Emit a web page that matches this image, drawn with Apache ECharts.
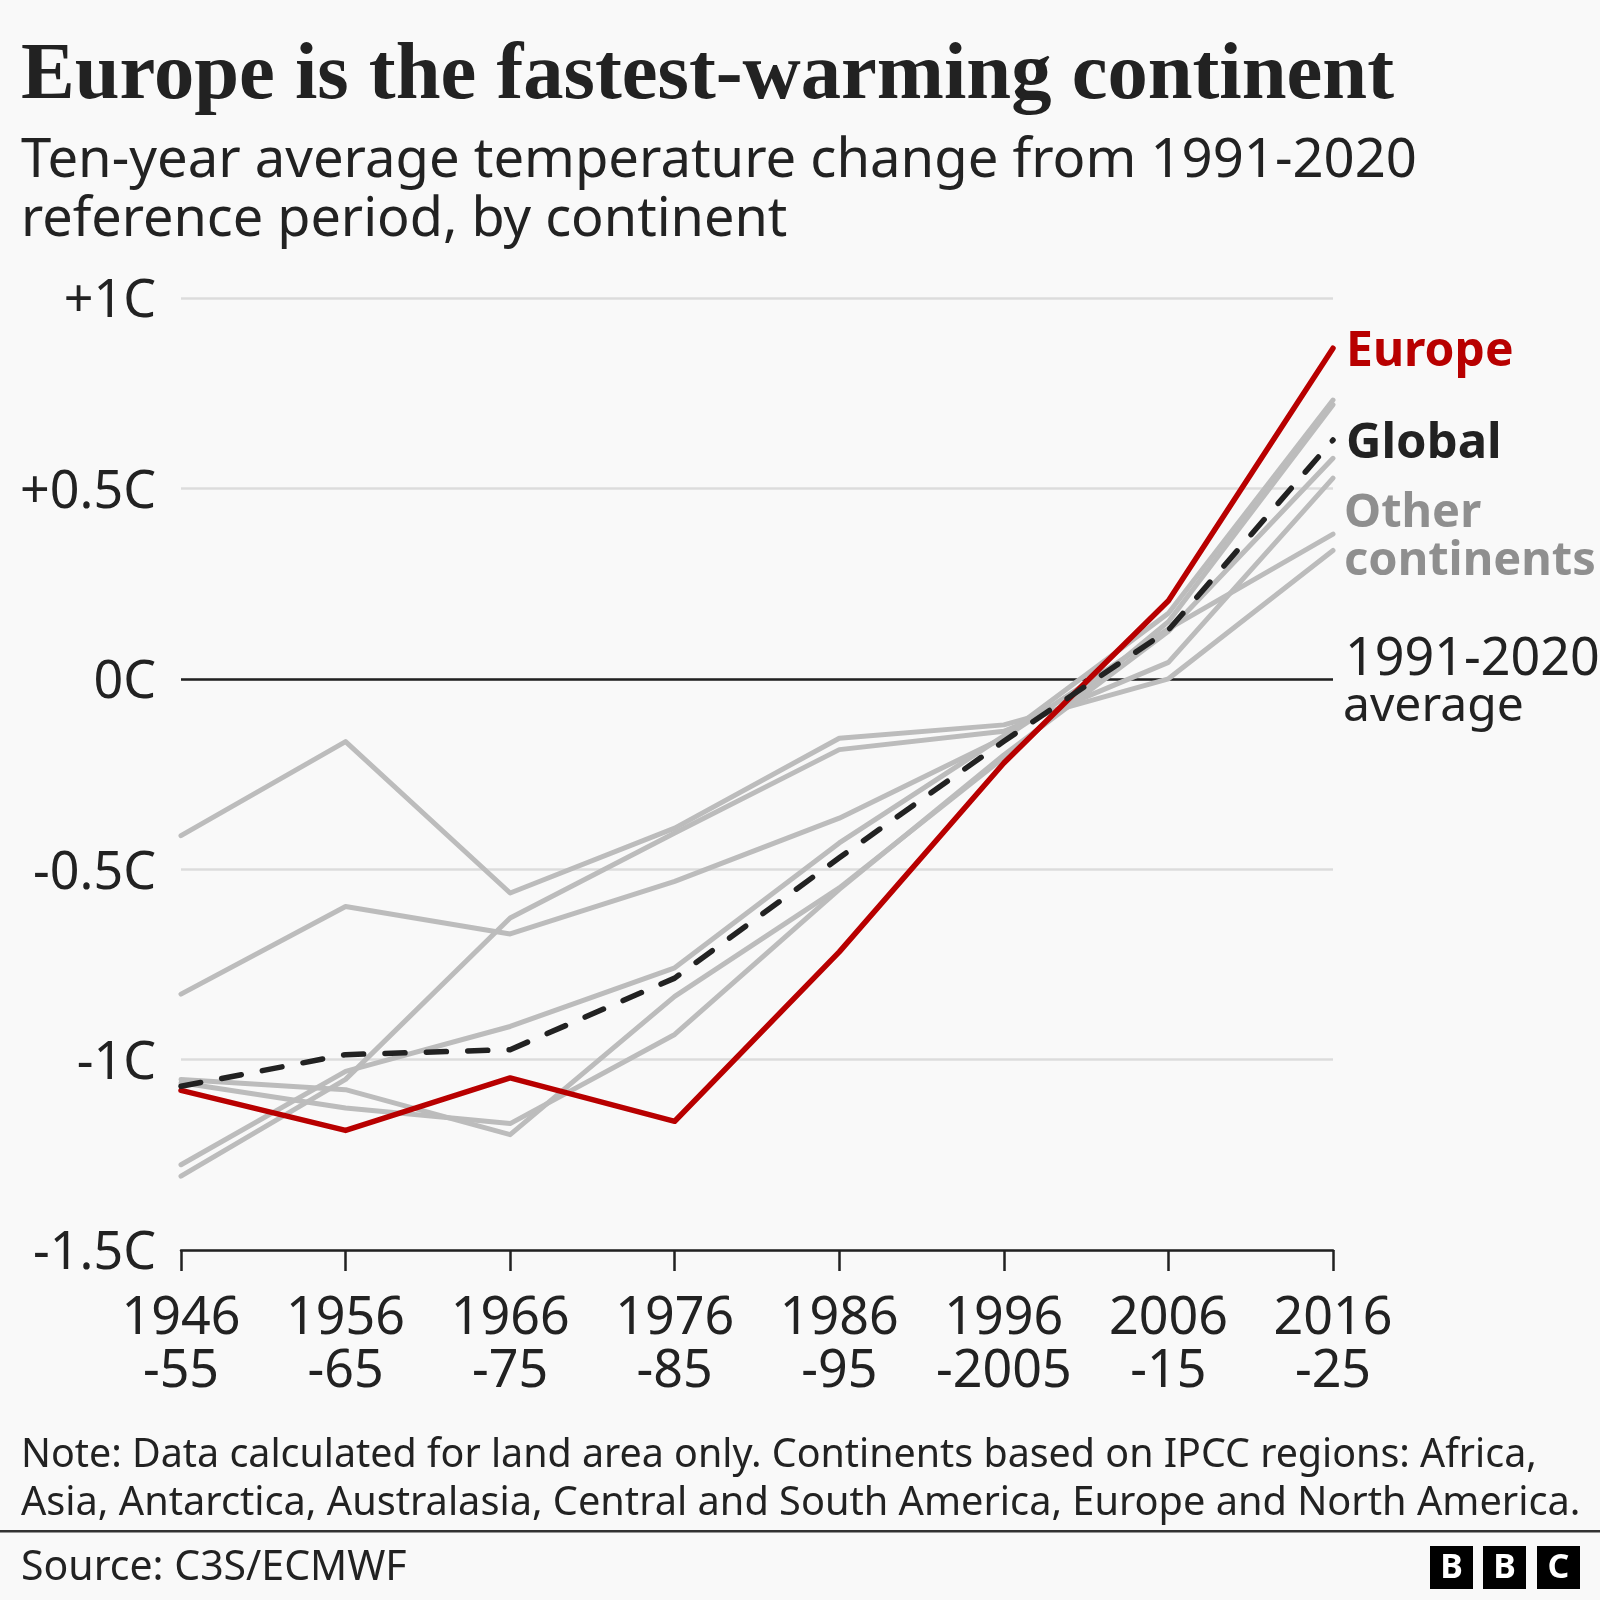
<!DOCTYPE html>
<html>
<head>
<meta charset="utf-8">
<style>html,body{margin:0;padding:0;background:#f9f9f9}#c{width:1600px;height:1600px}</style>
<script src="https://cdn.jsdelivr.net/npm/echarts@6/dist/echarts.min.js"></script>
</head>
<body>
<div id="c"></div>
<script>
const periods = ['1946\n-55','1956\n-65','1966\n-75','1976\n-85','1986\n-95','1996\n-2005','2006\n-15','2016\n-25'];
const yTickLabels = {'1':'+1C','0.5':'+0.5C','0':'0C','-0.5':'-0.5C','-1':'-1C','-1.5':'-1.5C'};
const other1 = [-0.412,-0.165,-0.5625,-0.392,-0.156,-0.121,0.000,0.337];
const other2 = [-1.306,-1.052,-0.628,-0.405,-0.186,-0.138,0.043,0.527];
const other3 = [-0.828,-0.598,-0.670,-0.532,-0.366,-0.155,0.131,0.380];
const other4 = [-1.276,-1.031,-0.913,-0.759,-0.431,-0.150,0.172,0.732];
const other5 = [-1.052,-1.079,-1.197,-0.834,-0.549,-0.207,0.150,0.720];
const other6 = [-1.061,-1.127,-1.168,-0.934,-0.553,-0.200,0.125,0.579];
const europe = [-1.081,-1.186,-1.048,-1.162,-0.717,-0.221,0.205,0.868];
const globalAvg = [-1.070,-0.987,-0.974,-0.786,-0.470,-0.164,0.128,0.627];

const sans = '"Noto Sans"';
const serif = '"Liberation Serif"';
const ink = '#222222';
const grey = '#bcbcbc';
const red = '#b80000';

function txt(x,y,text,size,color,weight,family,align){
  return {type:'text',x:x,y:y,silent:true,style:{text:text,fontSize:size,fill:color,fontWeight:weight||'normal',
    fontFamily:family||sans,textAlign:align||'left',textVerticalAlign:'middle'}};
}
function logo(x,letter){
  return {type:'group',x:x,y:1546,children:[
    {type:'rect',shape:{x:0,y:0,width:43,height:43},style:{fill:'#000'}},
    {type:'text',x:21.5,y:22.5,style:{text:letter,fontSize:34,fontWeight:'bold',fontFamily:sans,fill:'#fff',textAlign:'center',textVerticalAlign:'middle'}}
  ]};
}
function otherSeries(name,data,extra){
  return Object.assign({type:'line',name:name,data:data,symbol:'none',silent:true,z:3,
    lineStyle:{color:grey,width:5,cap:'round',join:'round'}},extra||{});
}

const chart = echarts.init(document.getElementById('c'),null,{renderer:'canvas'});
chart.setOption({
  animation:false,
  backgroundColor:'#f9f9f9',
  grid:{left:181,right:267,top:298,bottom:350,containLabel:false},
  xAxis:{type:'category',data:periods,boundaryGap:false,
    axisLine:{onZero:false,lineStyle:{color:ink,width:2.5}},
    axisTick:{show:true,length:21,lineStyle:{color:ink,width:2.5}},
    axisLabel:{interval:0,margin:43,fontSize:52,lineHeight:53,color:ink,fontFamily:sans,hideOverlap:false},
    splitLine:{show:false}},
  yAxis:{type:'value',min:-1.5,max:1,interval:0.5,
    axisLine:{show:false},axisTick:{show:false},
    axisLabel:{margin:25,fontSize:52,verticalAlign:'top',lineHeight:9,color:ink,fontFamily:sans,hideOverlap:false,
      verticalAlignMinLabel:'top',verticalAlignMaxLabel:'top',formatter:v=>yTickLabels[String(v)]},
    splitLine:{show:true,lineStyle:{color:'#dcdcdc',width:2.5}}},
  series:[
    otherSeries('Other 1',other1,{markLine:{silent:true,symbol:'none',z:2,label:{show:false},
      lineStyle:{color:ink,width:2.5,type:'solid'},data:[{yAxis:0}]}}),
    otherSeries('Other 2',other2),
    otherSeries('Other 3',other3),
    otherSeries('Other 4',other4),
    otherSeries('Other 5',other5),
    otherSeries('Other 6',other6),
    {type:'line',name:'Europe',data:europe,symbol:'none',silent:true,z:4,
      lineStyle:{color:red,width:5.5,cap:'round',join:'round'}},
    {type:'line',name:'Global',data:globalAvg,symbol:'none',silent:true,z:5,
      lineStyle:{color:ink,width:5.5,type:[20,21.4],cap:'round',join:'round'}}
  ],
  graphic:[
    txt(21,77,'Europe is the fastest-warming continent',80.6,ink,'bold',serif),
    txt(21,161,'Ten-year average temperature change from 1991-2020',54.4,ink),
    txt(21,221,'reference period, by continent',54,ink),
    txt(1346,352,'Europe',48,red,'bold'),
    txt(1346,444,'Global',49,ink,'bold'),
    txt(1344,514,'Other',47,'#8f8f8f','bold'),
    txt(1344,562,'continents',47,'#8f8f8f','bold'),
    txt(1345,660,'1991-2020',52,ink),
    txt(1343,707,'average',48,ink),
    txt(21,1456,'Note: Data calculated for land area only. Continents based on IPCC regions: Africa,',39.4,ink),
    txt(21,1504,'Asia, Antarctica, Australasia, Central and South America, Europe and North America.',39.7,ink),
    txt(21,1568,'Source: C3S/ECMWF',41,ink),
    {type:'rect',shape:{x:0,y:1530,width:1600,height:2.5},style:{fill:'#333'},silent:true},
    logo(1430,'B'),logo(1483,'B'),logo(1537,'C')
  ]
});
</script>
</body>
</html>
